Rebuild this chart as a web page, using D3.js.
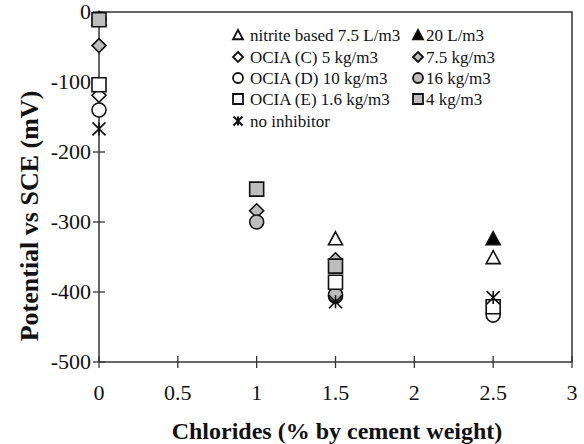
<!DOCTYPE html>
<html>
<head>
<meta charset="utf-8">
<script src="https://cdn.jsdelivr.net/npm/d3@7"></script>
<style>
body{margin:0;background:#fff;}
</style>
</head>
<body>
<script>
var chlorides=[0,1,1.5,2.5];
var nitrite75=[-10,null,-324,-351];
var nitrite20=[-10,null,null,-324];
var ociaC5=[-119,null,null,null];
var ociaC75=[-48,-284,-354,null];
var ociaD10=[-140,null,-406,-433];
var ociaD16=[-10,-300,-404,null];
var ociaE16=[-104,null,-386,-421];
var ociaE4=[-11,-253,-363,null];
var noInhib=[-167,null,-414,-408];
var xTicks=[0,0.5,1,1.5,2,2.5,3];
var yTicks=[0,-100,-200,-300,-400,-500];

var series=[
  {name:'nitrite based 7.5 L/m3',vals:nitrite75,shape:'tri',fill:'#fff'},
  {name:'20 L/m3',vals:nitrite20,shape:'tri',fill:'#000'},
  {name:'OCIA (C) 5 kg/m3',vals:ociaC5,shape:'dia',fill:'#fff'},
  {name:'7.5 kg/m3',vals:ociaC75,shape:'dia',fill:'#bdbdbd'},
  {name:'OCIA (D) 10 kg/m3',vals:ociaD10,shape:'circ',fill:'#fff'},
  {name:'16 kg/m3',vals:ociaD16,shape:'circ',fill:'#bdbdbd'},
  {name:'OCIA (E) 1.6 kg/m3',vals:ociaE16,shape:'sq',fill:'#fff'},
  {name:'4 kg/m3',vals:ociaE4,shape:'sq',fill:'#bdbdbd'},
  {name:'no inhibitor',vals:noInhib,shape:'star',fill:'none'}
];

var width=584,height=444;
var svg=d3.select('body').append('svg').attr('width',width).attr('height',height)
  .attr('font-family',"'Liberation Serif', 'Times New Roman', serif");

var x=d3.scaleLinear().domain([0,3]).range([99,572]);
var y=d3.scaleLinear().domain([-500,0]).range([362,12]);

function shapePath(shape,s){
  var h=s/2;
  if(shape=='sq') return 'M'+(-h)+','+(-h)+'h'+s+'v'+s+'h'+(-s)+'Z';
  if(shape=='dia') return 'M0,'+(-h)+'L'+h+',0L0,'+h+'L'+(-h)+',0Z';
  if(shape=='tri') return 'M0,'+(-h)+'L'+h+','+(h*0.85)+'L'+(-h)+','+(h*0.85)+'Z';
  if(shape=='circ') return 'M'+h+',0A'+h+','+h+' 0 1,1 '+(-h)+',0A'+h+','+h+' 0 1,1 '+h+',0Z';
  // x with vertical line
  return 'M'+(-h)+','+(-h)+'L'+h+','+h+'M'+h+','+(-h)+'L'+(-h)+','+h+'M0,'+(-h)+'L0,'+h;
}

// frame: top and right border
svg.append('path')
  .attr('d','M'+x(0)+','+y(0)+'H'+x(3)+'V'+y(-500))
  .attr('fill','none').attr('stroke','#333').attr('stroke-width',1.5);

// x axis at -500
var xAxis=svg.append('g').attr('transform','translate(0,'+y(-500)+')');
xAxis.append('line').attr('x1',x(0)).attr('x2',x(3)).attr('stroke','#333').attr('stroke-width',1.5);
xAxis.selectAll('.xt').data(xTicks).enter().append('line')
  .attr('x1',d=>x(d)).attr('x2',d=>x(d)).attr('y1',-6).attr('y2',6)
  .attr('stroke','#333').attr('stroke-width',1.3);
xAxis.selectAll('.xl').data(xTicks).enter().append('text')
  .attr('x',d=>x(d)).attr('y',38).attr('text-anchor','middle')
  .attr('font-size',22).attr('fill','#111').text(d=>d);

// y axis at 0
var yAxis=svg.append('g').attr('transform','translate('+x(0)+',0)');
yAxis.append('line').attr('y1',y(0)).attr('y2',y(-500)).attr('stroke','#333').attr('stroke-width',1.5);
yAxis.selectAll('.yt').data(yTicks).enter().append('line')
  .attr('y1',d=>y(d)).attr('y2',d=>y(d)).attr('x1',-6).attr('x2',6)
  .attr('stroke','#333').attr('stroke-width',1.3);
yAxis.selectAll('.yl').data(yTicks).enter().append('text')
  .attr('x',-8).attr('y',d=>y(d)+7).attr('text-anchor','end')
  .attr('font-size',22).attr('fill','#111').text(d=>d);

// titles
svg.append('text').attr('x',337).attr('y',439).attr('text-anchor','middle')
  .attr('font-size',24).attr('font-weight','bold').attr('fill','#111')
  .text('Chlorides (% by cement weight)');
svg.append('text').attr('transform','translate(38,216) rotate(-90)').attr('text-anchor','middle')
  .attr('font-size',26).attr('font-weight','bold').attr('fill','#111')
  .text('Potential vs SCE (mV)');

// points
series.forEach(function(s){
  var pts=chlorides.map((c,i)=>({c:c,v:s.vals[i]})).filter(p=>p.v!=null);
  svg.append('g').selectAll('path').data(pts).enter().append('path')
    .attr('transform',p=>'translate('+x(p.c)+','+y(p.v)+')')
    .attr('d',shapePath(s.shape,s.shape=='star'?13:14))
    .attr('fill',s.fill).attr('stroke','#111').attr('stroke-width',1.6);
});

// legend
var legRows=[35,57,78,99,121];
var leg=svg.append('g');
series.forEach(function(s,i){
  var col,row;
  if(i==8){col=0;row=4;}else{col=i%2;row=Math.floor(i/2);}
  var sx=col==0?238:418, tx=col==0?250:426;
  leg.append('path').attr('transform','translate('+sx+','+legRows[row]+')')
    .attr('d',shapePath(s.shape,s.shape=='star'?9:10))
    .attr('fill',s.fill).attr('stroke','#111').attr('stroke-width',s.shape=='star'?2:1.8);
  leg.append('text').attr('x',tx).attr('y',legRows[row]+6)
    .attr('font-size',17).attr('fill','#111').text(s.name);
});
</script>
</body>
</html>
